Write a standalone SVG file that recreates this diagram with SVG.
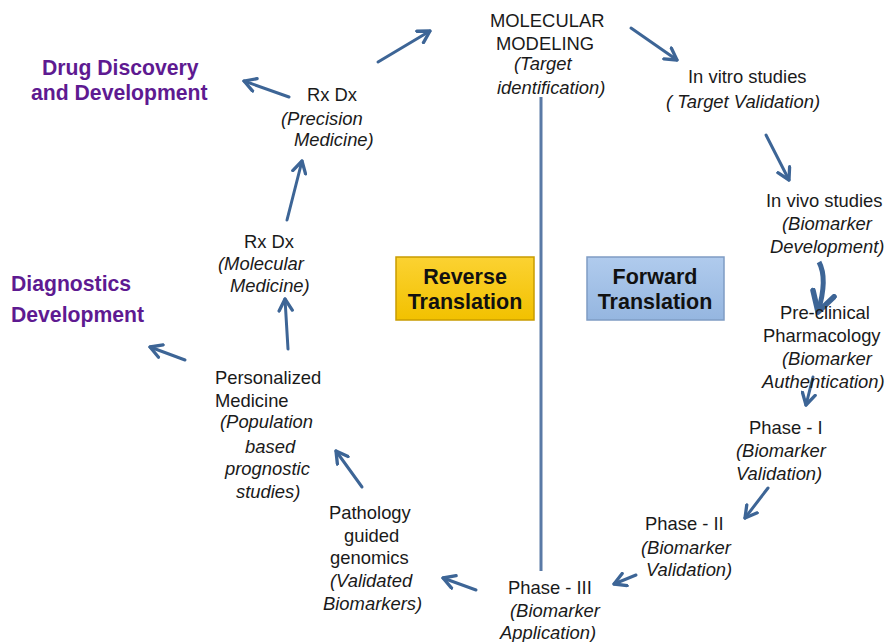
<svg xmlns="http://www.w3.org/2000/svg" width="889" height="642" viewBox="0 0 889 642">
  <style>
    .t { font-family: "Liberation Sans", Arial, sans-serif; font-size: 18.4px; fill: #1a1a1a; }
    .i { font-style: italic; }
    .p { font-family: "Liberation Sans", Arial, sans-serif; font-size: 21.2px; font-weight: bold; fill: #5e1a91; }
    .b { font-family: "Liberation Sans", Arial, sans-serif; font-size: 21.5px; font-weight: bold; fill: #111; text-anchor: middle; }
    .arr { stroke: #3d6596; stroke-width: 3; fill: none; stroke-linecap: round; marker-end: url(#head); }
  </style>
  <defs>
    <marker id="head" viewBox="0 0 10 10" refX="8" refY="5" markerWidth="5.5" markerHeight="5.5" orient="auto" markerUnits="strokeWidth">
      <path d="M1,1 L8,5 L1,9" fill="none" stroke="#3d6596" stroke-width="2" stroke-linecap="round" stroke-linejoin="round"/>
    </marker>
    <linearGradient id="gold" x1="0" y1="0" x2="0" y2="1">
      <stop offset="0" stop-color="#fbd232"/>
      <stop offset="1" stop-color="#f2c100"/>
    </linearGradient>
    <linearGradient id="blue" x1="0" y1="0" x2="0" y2="1">
      <stop offset="0" stop-color="#b0cbed"/>
      <stop offset="1" stop-color="#95b6e0"/>
    </linearGradient>
  </defs>
  <rect width="889" height="642" fill="#ffffff"/>

  <!-- divider between the two directions -->
  <line x1="541" y1="97" x2="541" y2="571" stroke="#5a7aa6" stroke-width="3"/>

  <g id="connectors">
    <line class="arr" x1="378" y1="62" x2="430" y2="31"/>
    <line class="arr" x1="289" y1="97" x2="244" y2="81"/>
    <line class="arr" x1="631" y1="28" x2="677" y2="60"/>
    <line class="arr" x1="766" y1="135" x2="789" y2="180"/>
    <path d="M819,262 C826,275 824,292 818,312" stroke="#3d6596" stroke-width="5" fill="none" marker-end="url(#head)"/>
    <line class="arr" x1="813" y1="377" x2="806" y2="405"/>
    <line class="arr" x1="768" y1="488" x2="745" y2="518"/>
    <line class="arr" x1="636" y1="575" x2="614" y2="584"/>
    <line class="arr" x1="476" y1="590" x2="443" y2="578"/>
    <line class="arr" x1="362" y1="487" x2="336" y2="451"/>
    <line class="arr" x1="288" y1="349" x2="285" y2="299"/>
    <line class="arr" x1="287" y1="220" x2="302" y2="161"/>
    <line class="arr" x1="185" y1="360" x2="150" y2="347"/>
  </g>

  <g id="drug-discovery">
    <text class="p" x="42" y="75">Drug Discovery</text>
    <text class="p" x="31" y="100">and Development</text>
  </g>
  <g id="diagnostics">
    <text class="p" x="11" y="291">Diagnostics</text>
    <text class="p" x="11" y="322">Development</text>
  </g>

  <g id="reverse-translation">
    <rect x="396" y="257" width="138" height="63" fill="url(#gold)" stroke="#c99c00" stroke-width="1.5"/>
    <text class="b" x="465" y="284">Reverse</text>
    <text class="b" x="465" y="309">Translation</text>
  </g>
  <g id="forward-translation">
    <rect x="587" y="257" width="137" height="63" fill="url(#blue)" stroke="#7f9cc4" stroke-width="1.5"/>
    <text class="b" x="655" y="284">Forward</text>
    <text class="b" x="655" y="309">Translation</text>
  </g>

  <g id="molecular-modeling">
    <text class="t" x="490" y="27">MOLECULAR</text>
    <text class="t" x="496" y="50">MODELING</text>
    <text class="t i" x="514" y="70">(Target</text>
    <text class="t i" x="497" y="94">identification)</text>
  </g>
  <g id="in-vitro">
    <text class="t" x="688" y="83">In vitro studies</text>
    <text class="t i" x="666" y="108">( Target Validation)</text>
  </g>
  <g id="in-vivo">
    <text class="t" x="766" y="207">In vivo studies</text>
    <text class="t i" x="782" y="230">(Biomarker</text>
    <text class="t i" x="770" y="253">Development)</text>
  </g>
  <g id="pre-clinical">
    <text class="t" x="780" y="319">Pre-clinical</text>
    <text class="t" x="763" y="342">Pharmacology</text>
    <text class="t i" x="782" y="365">(Biomarker</text>
    <text class="t i" x="762" y="388">Authentication)</text>
  </g>
  <g id="phase-1">
    <text class="t" x="749" y="434">Phase - I</text>
    <text class="t i" x="736" y="457">(Biomarker</text>
    <text class="t i" x="736" y="480">Validation)</text>
  </g>
  <g id="phase-2">
    <text class="t" x="645" y="530">Phase - II</text>
    <text class="t i" x="641" y="554">(Biomarker</text>
    <text class="t i" x="646" y="576">Validation)</text>
  </g>
  <g id="phase-3">
    <text class="t" x="508" y="594">Phase - III</text>
    <text class="t i" x="510" y="617">(Biomarker</text>
    <text class="t i" x="500" y="639">Application)</text>
  </g>
  <g id="pathology-genomics">
    <text class="t" x="329" y="519">Pathology</text>
    <text class="t" x="344" y="542">guided</text>
    <text class="t" x="330" y="564">genomics</text>
    <text class="t i" x="330" y="587">(Validated</text>
    <text class="t i" x="323" y="610">Biomarkers)</text>
  </g>
  <g id="personalized-medicine">
    <text class="t" x="215" y="384">Personalized</text>
    <text class="t" x="215" y="407">Medicine</text>
    <text class="t i" x="220" y="428">(Population</text>
    <text class="t i" x="245" y="453">based</text>
    <text class="t i" x="225" y="475">prognostic</text>
    <text class="t i" x="236" y="498">studies)</text>
  </g>
  <g id="rxdx-molecular">
    <text class="t" x="244" y="248">Rx Dx</text>
    <text class="t i" x="218" y="270">(Molecular</text>
    <text class="t i" x="230" y="292">Medicine)</text>
  </g>
  <g id="rxdx-precision">
    <text class="t" x="307" y="101">Rx Dx</text>
    <text class="t i" x="281" y="125">(Precision</text>
    <text class="t i" x="294" y="146">Medicine)</text>
  </g>
</svg>
